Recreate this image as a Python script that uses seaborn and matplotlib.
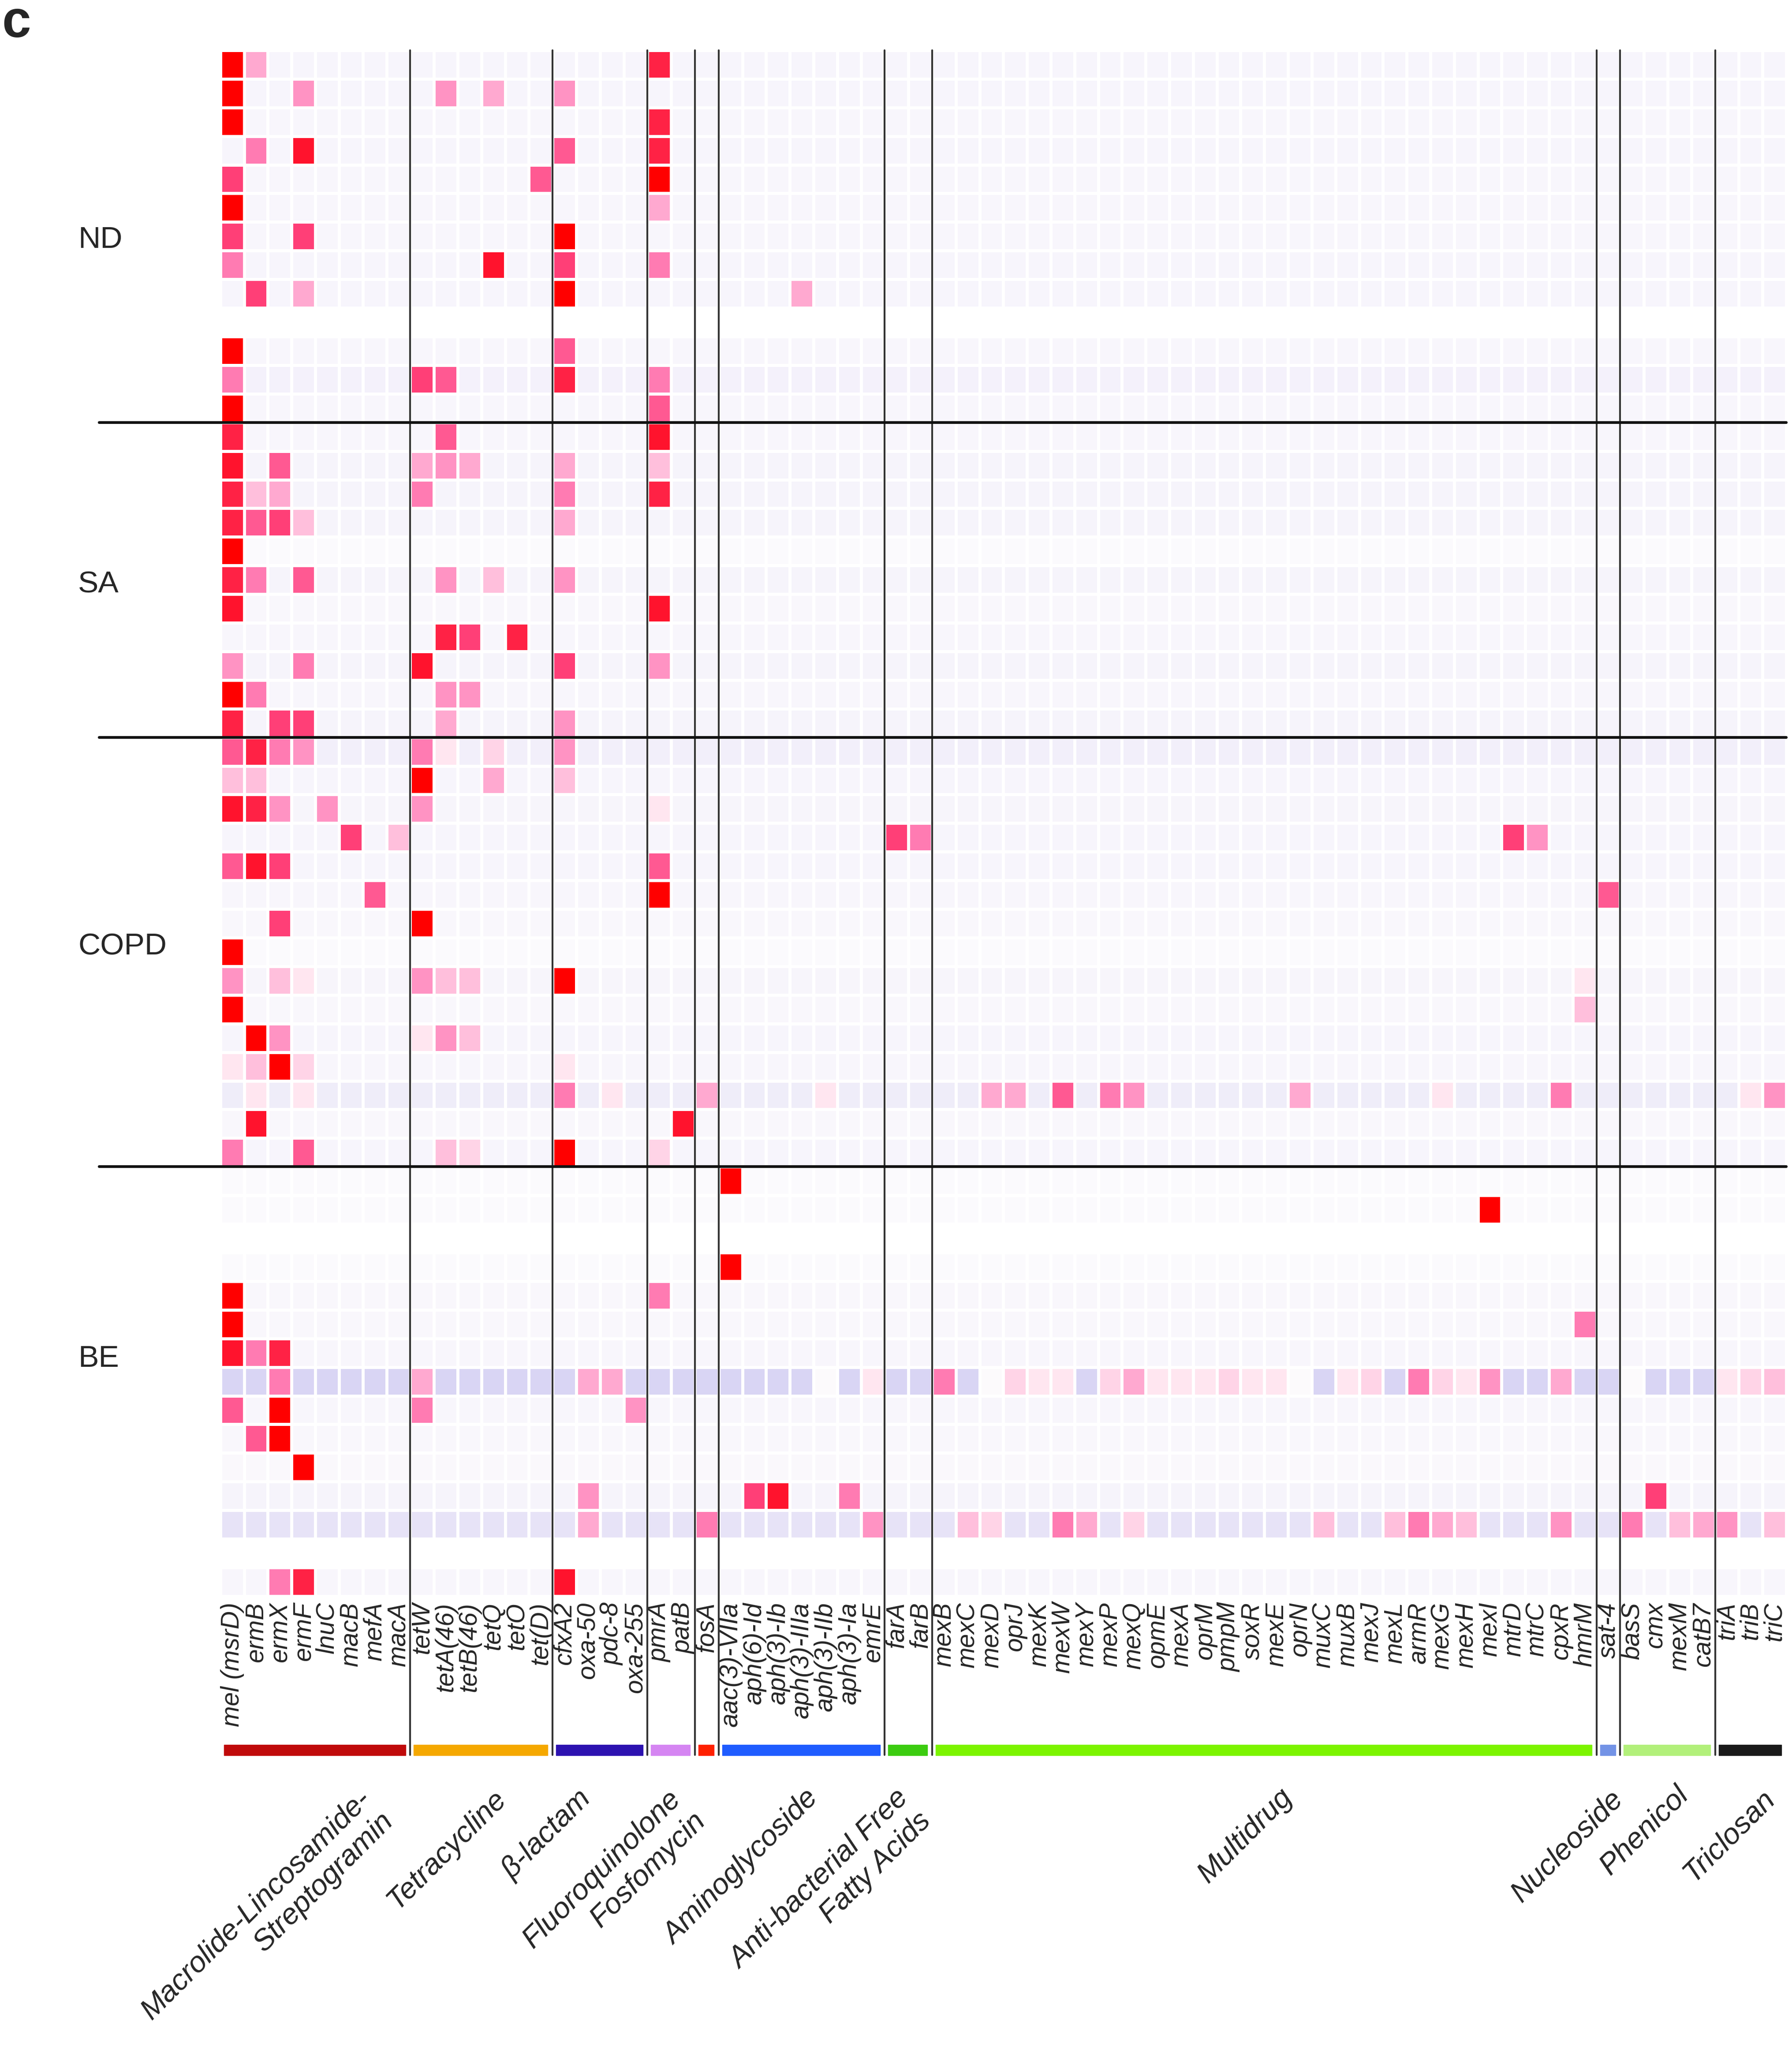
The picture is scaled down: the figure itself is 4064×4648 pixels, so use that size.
# ===== IMPORT LIBRARIES =====
import numpy as np
import pandas as pd
import matplotlib
matplotlib.use("Agg")
import matplotlib.pyplot as plt
import seaborn as sns
from matplotlib.colors import LinearSegmentedColormap
from matplotlib.patches import Rectangle

# ===== GENES AND RESISTANCE CLASSES =====
genes = ["mel (msrD)", "ermB", "ermX", "ermF", "lnuC", "macB", "mefA", "macA",
         "tetW", "tetA(46)", "tetB(46)", "tetQ", "tetO", "tet(D)",
         "cfxA2", "oxa-50", "pdc-8", "oxa-255",
         "pmrA", "patB",
         "fosA",
         "aac(3)-VIIa", "aph(6)-Id", "aph(3)-Ib", "aph(3)-IIIa", "aph(3)-IIb", "aph(3)-Ia", "emrE",
         "farA", "farB",
         "mexB", "mexC", "mexD", "oprJ", "mexK", "mexW", "mexY", "mexP", "mexQ", "opmE",
         "mexA", "oprM", "pmpM", "soxR", "mexE", "oprN", "muxC", "muxB", "mexJ", "mexL",
         "armR", "mexG", "mexH", "mexI", "mtrD", "mtrC", "cpxR", "hmrM",
         "sat-4",
         "basS", "cmx", "mexM", "catB7",
         "triA", "triB", "triC"]

class_names = ["Macrolide-Lincosamide-\nStreptogramin", "Tetracycline", "\u03b2-lactam",
               "Fluoroquinolone", "Fosfomycin", "Aminoglycoside",
               "Anti-bacterial Free\nFatty Acids", "Multidrug", "Nucleoside",
               "Phenicol", "Triclosan"]
class_sizes = [8, 6, 4, 2, 1, 7, 2, 28, 1, 4, 3]
class_colors = ["#c00a0a", "#f5a800", "#2c12b0", "#d585f2", "#ff2000", "#1f5cff",
                "#3ccc10", "#7cf400", "#7393e6", "#b2f07a", "#1a1a1a"]

cohorts = ["ND", "SA", "COPD", "BE"]

# ===== CELL LEVELS =====
# '.' = row background, '0'-'9','Y','X' = relative abundance level, None = empty sample
levels = {"0": 0.0, "1": 0.1, "2": 0.2, "3": 0.3, "4": 0.4, "5": 0.5, "6": 0.6,
          "7": 0.7, "8": 0.8, "9": 0.9, "Y": 0.95, "X": 1.0}

nd_rows = [
    "X4......|......|....|9.|.|.......|..|............................|.|....|...",
    "X..5....|.5.4..|5...|..|.|.......|..|............................|.|....|...",
    "X.......|......|....|9.|.|.......|..|............................|.|....|...",
    ".6.Y....|......|7...|9.|.|.......|..|............................|.|....|...",
    "8.......|.....7|....|X.|.|.......|..|............................|.|....|...",
    "X.......|......|....|4.|.|.......|..|............................|.|....|...",
    "8..8....|......|X...|..|.|.......|..|............................|.|....|...",
    "6.......|...Y..|8...|6.|.|.......|..|............................|.|....|...",
    ".8.4....|......|X...|..|.|...4...|..|............................|.|....|...",
    None,
    "X.......|......|7...|..|.|.......|..|............................|.|....|...",
    "6.......|87....|9...|6.|.|.......|..|............................|.|....|...",
    "X.......|......|....|7.|.|.......|..|............................|.|....|...",
]
nd_bg = [-0.12, -0.12, -0.1, -0.12, -0.1, -0.1, -0.1, -0.12, -0.12, 0, -0.1, -0.2, -0.1]

sa_rows = [
    "9.......|.7....|....|Y.|.|.......|..|............................|.|....|...",
    "Y.7.....|454...|4...|3.|.|.......|..|............................|.|....|...",
    "934.....|6.....|6...|9.|.|.......|..|............................|.|....|...",
    "9783....|......|4...|..|.|.......|..|............................|.|....|...",
    "X.......|......|....|..|.|.......|..|............................|.|....|...",
    "96.7....|.5.3..|5...|..|.|.......|..|............................|.|....|...",
    "Y.......|......|....|Y.|.|.......|..|............................|.|....|...",
    "........|.98.9.|....|..|.|.......|..|............................|.|....|...",
    "5..6....|Y.....|8...|5.|.|.......|..|............................|.|....|...",
    "X6......|.55...|....|..|.|.......|..|............................|.|....|...",
    "9.88....|.4....|5...|..|.|.......|..|............................|.|....|...",
]
sa_bg = [-0.1, -0.15, -0.15, -0.15, -0.02, -0.15, -0.08, -0.1, -0.14, -0.1, -0.14]

copd_rows = [
    "7965....|61.2..|5...|..|.|.......|..|............................|.|....|...",
    "33......|X..4..|3...|..|.|.......|..|............................|.|....|...",
    "Y95.5...|5.....|....|1.|.|.......|..|............................|.|....|...",
    ".....8.3|......|....|..|.|.......|86|........................85..|.|....|...",
    "7Y8.....|......|....|7.|.|.......|..|............................|.|....|...",
    "......7.|......|....|X.|.|.......|..|............................|7|....|...",
    "..8.....|X.....|....|..|.|.......|..|............................|.|....|...",
    "X.......|......|....|..|.|.......|..|............................|.|....|...",
    "5.31....|533...|X...|..|.|.......|..|...........................1|.|....|...",
    "X.......|......|....|..|.|.......|..|...........................3|.|....|...",
    ".X5.....|153...|....|..|.|.......|..|............................|.|....|...",
    "13X2....|......|1...|..|.|.......|..|............................|.|....|...",
    ".1.1....|......|6.1.|..|4|....1..|..|..44.7.65......4.....1....6.|.|....|.15",
    ".Y......|......|....|.Y|.|.......|..|............................|.|....|...",
    "6..7....|.32...|X...|2.|.|.......|..|............................|.|....|...",
]
copd_bg = [-0.25, -0.12, -0.13, -0.12, -0.12, -0.1, -0.08, -0.02, -0.13, -0.08,
           -0.12, -0.1, -0.3, -0.08, -0.12]

be_rows = [
    "........|......|....|..|.|X......|..|............................|.|....|...",
    "........|......|....|..|.|.......|..|.......................X....|.|....|...",
    None,
    "........|......|....|..|.|X......|..|............................|.|....|...",
    "X.......|......|....|6.|.|.......|..|............................|.|....|...",
    "X.......|......|....|..|.|.......|..|...........................6|.|....|...",
    "Y69.....|......|....|..|.|.......|..|............................|.|....|...",
    "..6.....|4.....|.44.|..|.|....0.1|..|6.0211.241112110.12.6215..4.|.|0...|123",
    "7.X.....|6.....|...5|..|.|.......|..|............................|.|....|...",
    ".7X.....|......|....|..|.|.......|..|............................|.|....|...",
    "...X....|......|....|..|.|.......|..|............................|.|....|...",
    "........|......|.5..|..|.|.8Y..6.|..|............................|.|.8..|...",
    "........|......|.4..|..|6|......5|..|.32..64.2.......3..3643...5.|.|6.34|5.3",
    None,
    "..69....|......|Y...|..|.|.......|..|............................|.|....|...",
]
be_bg = [-0.02, -0.02, 0, -0.02, -0.08, -0.08, -0.1, -0.85, -0.1, -0.08, -0.06,
         -0.14, -0.5, 0, -0.1]


def parse_row(row, bg):
    if row is None:
        return [np.nan] * len(genes)
    cells = row.replace("|", "")
    assert len(cells) == len(genes), row
    return [bg if c == "." else levels[c] for c in cells]


all_rows = [nd_rows, sa_rows, copd_rows, be_rows]
all_bg = [nd_bg, sa_bg, copd_bg, be_bg]
cohort_sizes = [len(r) for r in all_rows]

matrix = []
for rows, bgs in zip(all_rows, all_bg):
    for row, bg in zip(rows, bgs):
        matrix.append(parse_row(row, bg))
data = pd.DataFrame(matrix, columns=genes)

# ===== COLOUR MAP (lavender - white - pink - red) =====
nodes = [(-1.0, "#d3cff3"), (-0.5, "#e7e3f7"), (0.0, "#fcfbfd"), (0.1, "#ffe6f0"),
         (0.2, "#ffd4e7"), (0.3, "#ffbfdc"), (0.4, "#ffaad1"), (0.5, "#ff94c4"),
         (0.6, "#ff7bb2"), (0.7, "#ff5a93"), (0.8, "#ff4079"), (0.9, "#ff2448"),
         (0.95, "#ff1430"), (1.0, "#ff0000")]
cmap = LinearSegmentedColormap.from_list("arg", [((v + 1) / 2, c) for v, c in nodes])

# ===== PLOT =====
sns.set_style("white")
plt.rcParams["font.family"] = ["Liberation Sans", "DejaVu Sans"]

fig = plt.figure(figsize=(40.64, 46.48), dpi=100)
ax = fig.add_axes([0.123, 0.2214, 0.8738, 0.7541])

sns.heatmap(data, cmap=cmap, vmin=-1, vmax=1, linewidths=5, linecolor="white",
            cbar=False, xticklabels=True, yticklabels=False, ax=ax)

ax.set_xticklabels(genes, rotation=90, fontsize=41, fontstyle="italic")
ax.tick_params(axis="x", length=0, pad=10)
ax.set_xlabel("")
ax.set_ylabel("")

n_rows = len(data)
bar_y = n_rows + 5.2

# class separators and colour bars
edges = np.concatenate([[0], np.cumsum(class_sizes)])
for b in edges[1:-1]:
    ax.plot([b, b], [0, n_rows + 5.55], color="#333333", lw=3, clip_on=False, zorder=5)
for start, stop, col in zip(edges[:-1], edges[1:], class_colors):
    ax.add_patch(Rectangle((start + 0.15, bar_y), stop - start - 0.35, 0.37,
                           facecolor=col, edgecolor=col, lw=1, clip_on=False))

# cohort separators
for b in np.cumsum(cohort_sizes)[:-1]:
    ax.plot([-5.1, len(genes)], [b, b], color="#111111", lw=4.5, clip_on=False, zorder=6)

# cohort labels
label_y = [6.62, 18.67, 31.32, 45.72]
for name, y in zip(cohorts, label_y):
    ax.text(-6.0, y, name, fontsize=50, ha="left", va="center")

# class labels
class_label_xy = [(5.76, 60.6), (11.44, 60.6), (15.02, 60.6), (18.82, 60.6),
                  (19.87, 61.37), (24.61, 60.6), (28.41, 60.6), (44.61, 60.55),
                  (58.53, 60.6), (61.3, 60.46), (64.93, 60.6)]
for name, (x, y) in zip(class_names, class_label_xy):
    ax.text(x, y, name, rotation=45, rotation_mode="anchor", ha="right", va="top",
            fontsize=48, fontstyle="italic", multialignment="right", clip_on=False)

fig.text(0.001, 0.982, "c", fontsize=85, fontweight="bold", ha="left", va="baseline")

fig.savefig("out.png", dpi=100)
